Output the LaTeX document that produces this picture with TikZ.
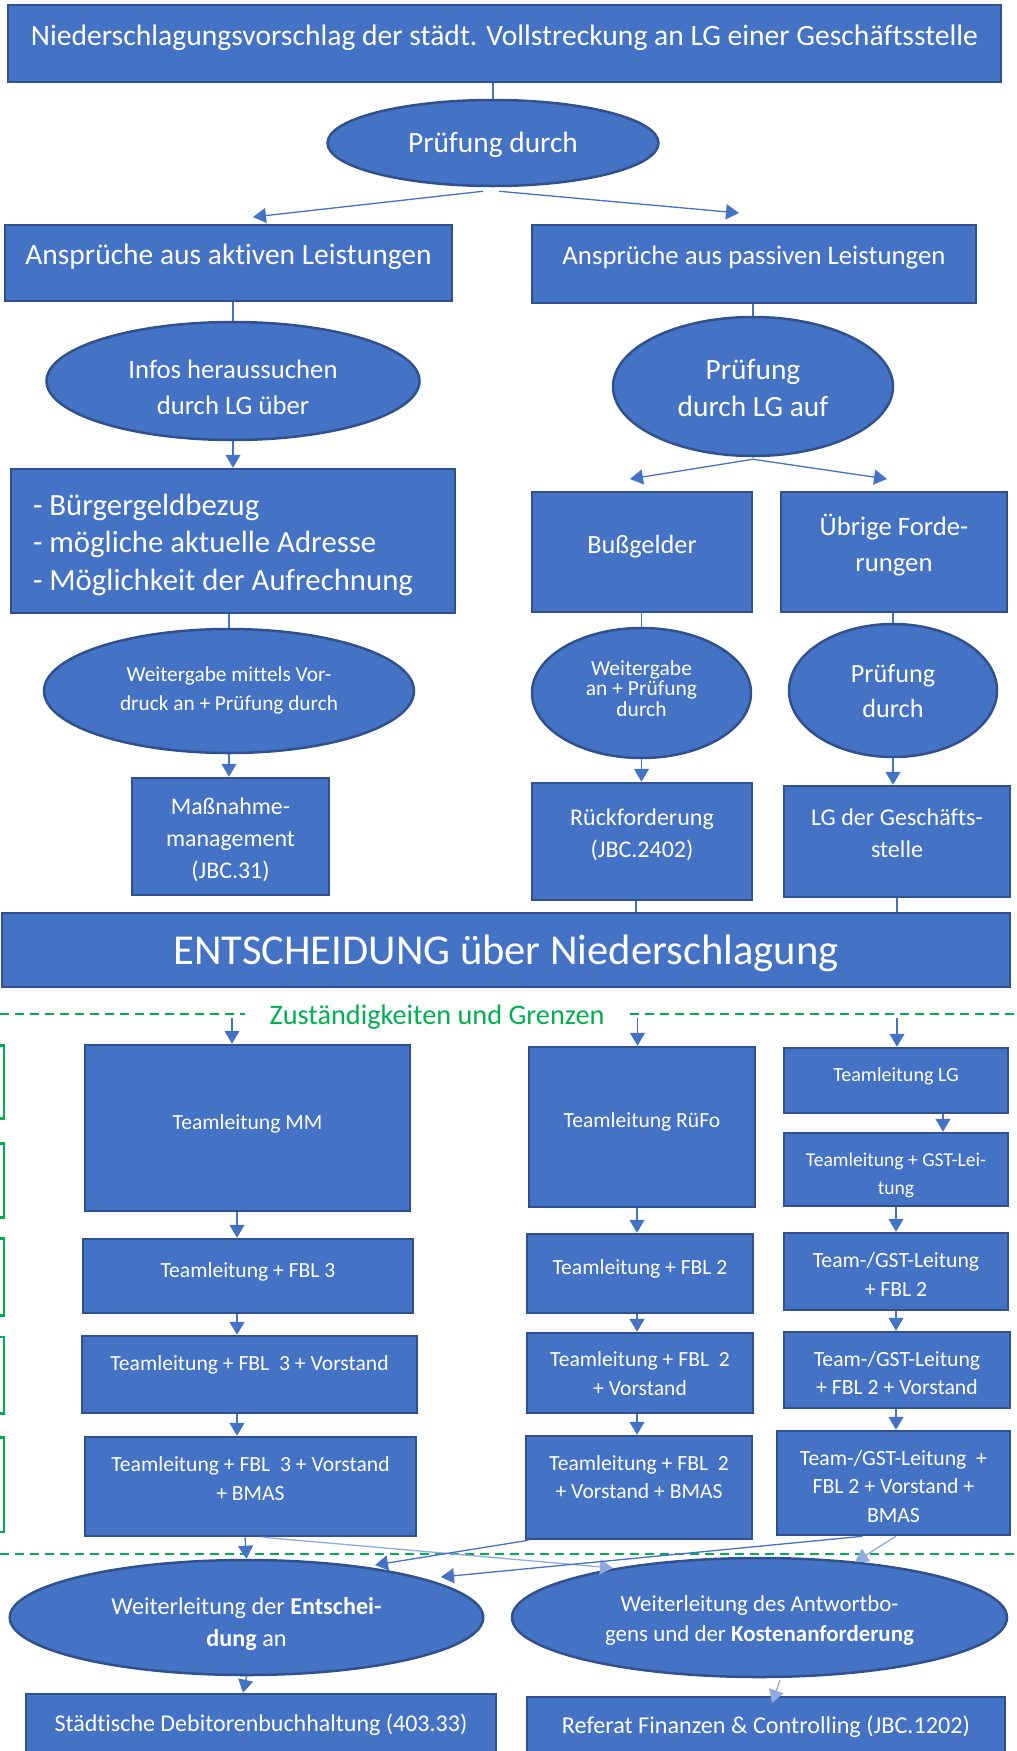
\documentclass[tikz,border=0pt]{standalone}
\usepackage{fontspec}
\setmainfont{Carlito}[Ligatures=NoCommon]
\usetikzlibrary{shapes.geometric,arrows.meta,calc}
\definecolor{boxblue}{HTML}{4472C4}
\definecolor{boxedge}{HTML}{2F528F}
\definecolor{lightblue}{HTML}{8FAADC}
\definecolor{grn}{HTML}{00B050}
\newcommand{\tb}[2]{\raisebox{\dimexpr#1-2.5pt\relax}[\height][\depth]{\begin{tabular}{@{}c@{}}#2\end{tabular}}}
\newcommand{\tbl}[2]{\raisebox{\dimexpr#1-2.5pt\relax}[\height][\depth]{\begin{tabular}{@{}l@{}}#2\end{tabular}}}
\newcommand{\fs}[2]{\fontsize{#1}{#2}\selectfont}
\begin{document}
\begin{tikzpicture}[x=1pt,y=-1pt,
  bluebox/.style={rectangle, draw=boxedge, fill=boxblue, line width=2.5pt, text=white, inner sep=0pt},
  blueoval/.style={ellipse, draw=boxedge, fill=boxblue, line width=2.5pt, text=white, inner sep=0pt},
  conn/.style={draw=boxblue, line width=1.3pt},
  arr/.style={conn, -{Triangle[length=13pt,width=15pt]}},
  larr/.style={draw=lightblue, line width=1.3pt, -{Triangle[length=13pt,width=15pt]}},
  gdash/.style={draw=grn, line width=2pt, dash pattern=on 9pt off 6pt},
  gbox/.style={draw=grn, line width=2.5pt},
  team/.style={bluebox, font=\fs{21.6}{29}},
]
\useasboundingbox (0,0) rectangle (1017,1751);
\clip (0,0) rectangle (1017,1751);

% ---------- upper part ----------
\node[bluebox, minimum width=993pt, minimum height=77pt, font=\fs{29.6}{36}] (top) at (504.5,43.5)
  {\tb{7.5pt}{Niederschlagungsvorschlag der städt. Vollstreckung an LG einer Geschäftsstelle}};
\node[blueoval, minimum width=331pt, minimum height=86pt, font=\fs{29.4}{36}] (pd) at (493,143)
  {\tb{0pt}{Prüfung durch}};
\node[bluebox, minimum width=447pt, minimum height=76pt, font=\fs{29.5}{36}] (akt) at (228.5,263)
  {\tb{8pt}{Ansprüche aus aktiven Leistungen}};
\node[bluebox, minimum width=444pt, minimum height=78pt, font=\fs{26.8}{34}] (pas) at (754,264)
  {\tb{9pt}{Ansprüche aus passiven Leistungen}};
\node[blueoval, minimum width=373pt, minimum height=118pt, font=\fs{26.7}{36}] (infos) at (233,381)
  {\tb{-6pt}{Infos heraussuchen\\durch LG über}};
\node[blueoval, minimum width=280pt, minimum height=139pt, font=\fs{29.4}{37}] (plg) at (753,386.5)
  {\tb{-2pt}{Prüfung\\durch LG auf}};
\node[bluebox, minimum width=444pt, minimum height=144pt, font=\fs{30.8}{37.5}] (bg) at (233,541)
  {\makebox[400pt][l]{\tbl{-1.5pt}{- Bürgergeldbezug\\- mögliche aktuelle Adresse\\- Möglichkeit der Aufrechnung}}};
\node[bluebox, minimum width=220pt, minimum height=120pt, font=\fs{26.3}{36}] (bus) at (642,552)
  {\tb{8pt}{Bußgelder}};
\node[bluebox, minimum width=226pt, minimum height=120pt, font=\fs{26.7}{36}] (ueb) at (894,552)
  {\tb{8pt}{Übrige Forde-\\rungen}};
\node[blueoval, minimum width=370pt, minimum height=124pt, font=\fs{21.3}{29}] (wg) at (229,691)
  {\tb{3.5pt}{Weitergabe mittels Vor-\\druck an + Prüfung durch}};
\node[blueoval, minimum width=219pt, minimum height=130pt, font=\fs{21.5}{20}] (wa) at (641.5,693)
  {\tb{4pt}{Weitergabe\\an + Prüfung\\durch}};
\node[blueoval, minimum width=208pt, minimum height=133pt, font=\fs{26.2}{35}] (pd2) at (893,690.5)
  {\tb{0pt}{Prüfung\\durch}};
\node[bluebox, minimum width=197pt, minimum height=117pt, font=\fs{23.9}{32}] (mm) at (230.5,836.5)
  {\tb{-1.5pt}{Maßnahme-\\management\\(JBC.31)}};
\node[bluebox, minimum width=220pt, minimum height=117pt, font=\fs{24}{32}] (rf) at (642,841.5)
  {\tb{8.5pt}{Rückforderung\\(JBC.2402)}};
\node[bluebox, minimum width=226pt, minimum height=111pt, font=\fs{24.1}{32}] (lgg) at (897,841.5)
  {\tb{8.5pt}{LG der Geschäfts-\\stelle}};
\node[bluebox, minimum width=1008pt, minimum height=74pt, font=\fs{42.6}{50}] (ent) at (506,950)
  {\tb{-2pt}{ENTSCHEIDUNG über Niederschlagung}};

% ---------- responsibilities ----------
\node[text=grn, inner xsep=26pt, inner ysep=0pt, font=\fs{28.3}{34}] (zust) at (437,1015)
  {\tb{0pt}{Zuständigkeiten und Grenzen}};
\draw[gdash] (0,1014) -- (245,1014);
\draw[gdash] (630,1014) -- (1017,1014);

\draw[gbox] (-10,1045.5) rectangle (4,1118.5);
\draw[gbox] (-10,1143.5) rectangle (4,1217.5);
\draw[gbox] (-10,1238.5) rectangle (4,1315.5);
\draw[gbox] (-10,1337) rectangle (4,1413.5);
\draw[gbox] (-10,1437.5) rectangle (4,1532);

\node[team, minimum width=325pt, minimum height=166pt] (tA1) at (247.5,1128) {\tb{7pt}{Teamleitung MM}};
\node[team, minimum width=330pt, minimum height=74pt] (tA2) at (248,1276) {\tb{7pt}{Teamleitung + FBL 3}};
\node[team, minimum width=335pt, minimum height=77pt] (tA3) at (249.5,1374.5) {\tb{12.5pt}{Teamleitung + FBL\ \ 3 + Vorstand}};
\node[team, minimum width=331pt, minimum height=99pt] (tA4) at (250.5,1486.5) {\tb{9pt}{Teamleitung + FBL\ \ 3 + Vorstand\\+ BMAS}};

\node[team, minimum width=226pt, minimum height=160pt] (tB1) at (642,1127) {\tb{8pt}{Teamleitung RüFo}};
\node[team, minimum width=226pt, minimum height=79pt] (tB2) at (640,1273.5) {\tb{7.5pt}{Teamleitung + FBL 2}};
\node[team, minimum width=226pt, minimum height=80pt] (tB3) at (640,1373) {\tb{0.5pt}{Teamleitung + FBL\ \ 2\\+ Vorstand}};
\node[team, minimum width=226pt, minimum height=103pt, font=\fs{21.6}{28}] (tB4) at (639,1487.5) {\tb{11.5pt}{Teamleitung + FBL\ \ 2\\+ Vorstand + BMAS}};

\node[team, minimum width=224pt, minimum height=65pt, font=\fs{20.1}{28}] (tC1) at (896,1080.5) {\tb{7.5pt}{Teamleitung LG}};
\node[team, minimum width=224pt, minimum height=73pt, font=\fs{19.6}{28}] (tC2) at (896,1169.5) {\tb{-2.5pt}{Teamleitung + GST-Lei-\\tung}};
\node[team, minimum width=224pt, minimum height=77pt, font=\fs{21.7}{29}] (tC3) at (896,1271.5) {\tb{-2pt}{Team-/GST-Leitung\\+ FBL 2}};
\node[team, minimum width=226pt, minimum height=76pt, font=\fs{21.7}{28}] (tC4) at (897,1370) {\tb{-2pt}{Team-/GST-Leitung\\+ FBL 2 + Vorstand}};
\node[team, minimum width=233pt, minimum height=104pt, font=\fs{21.7}{28.5}] (tC5) at (893.5,1483) {\tb{-2.5pt}{Team-/GST-Leitung\ \ +\\FBL 2 + Vorstand +\\BMAS}};

% ---------- bottom ----------
\draw[gdash] (0,1554) -- (1017,1554);
\node[blueoval, minimum width=473.5pt, minimum height=115pt, font=\fs{24.2}{32}] (weL) at (246.5,1617.5)
  {\tb{-4.5pt}{Weiterleitung der \textbf{Entschei-}\\\textbf{dung} an}};
\node[blueoval, minimum width=495pt, minimum height=119pt, font=\fs{22.9}{30}] (weR) at (759.5,1617.5)
  {\tb{0pt}{Weiterleitung des Antwortbo-\\gens und der \textbf{Kostenanforderung}}};
\node[bluebox, minimum width=470pt, minimum height=72pt, font=\fs{24}{32}] (deb) at (261,1730)
  {\tb{7pt}{Städtische Debitorenbuchhaltung (403.33)}};
\node[bluebox, minimum width=478pt, minimum height=69pt, font=\fs{24.2}{32}] (ref) at (766,1731.5)
  {\tb{6.5pt}{Referat Finanzen \& Controlling (JBC.1202)}};

% ---------- connectors upper ----------
\coordinate (pa) at (253,217);
\coordinate (pb) at (739,213);
\coordinate (pc) at (630,479);
\coordinate (pe) at (887,479);
\draw[conn] (pd.north |- top.south) -- (pd.north);
\draw[arr] ([xshift=-10pt,yshift=-4pt]pd.south) -- (pa);
\draw[arr] ([xshift=6pt,yshift=-4pt]pd.south) -- (pb);
\draw[conn] (infos.north |- akt.south) -- (infos.north);
\draw[conn] (plg.north |- pas.south) -- (plg.north);
\draw[arr] (infos.south) -- (infos.south |- bg.north);
\draw[arr] ([yshift=-2pt]plg.south) -- (pc);
\draw[arr] ([yshift=-2pt]plg.south) -- (pe);
\draw[conn] (wg.north |- bg.south) -- (wg.north);
\draw[conn] (wa.north |- bus.south) -- (wa.north);
\draw[conn] (pd2.north |- ueb.south) -- (pd2.north);
\draw[arr] (wg.south) -- (wg.south |- mm.north);
\draw[arr] (wa.south) -- (wa.south |- rf.north);
\draw[arr] (pd2.south) -- (pd2.south |- lgg.north);
\coordinate (rfb) at ([xshift=-6pt]rf.south);
\draw[conn] (rfb) -- (rfb |- ent.north);
\draw[conn] (lgg.south) -- (lgg.south |- ent.north);

% ---------- connectors responsibilities ----------
\coordinate (dA) at (232,1018);
\coordinate (dB) at (637.5,1018);
\coordinate (dC) at (897,1018);
\draw[arr] (dA) -- (dA |- tA1.north);
\draw[arr] (dB) -- (dB |- tB1.north);
\draw[arr] (dC) -- (dC |- tC1.north);
\coordinate (cA) at (237,0);
\coordinate (cB) at (637,0);
\coordinate (cC) at (896,0);
\coordinate (cC2) at (943,0);
\draw[arr] (tA1.south -| cA) -- (tA2.north -| cA);
\draw[arr] (tA2.south -| cA) -- (tA3.north -| cA);
\draw[arr] (tA3.south -| cA) -- (tA4.north -| cA);
\draw[arr] (tB1.south -| cB) -- (tB2.north -| cB);
\draw[arr] (tB2.south -| cB) -- (tB3.north -| cB);
\draw[arr] (tB3.south -| cB) -- (tB4.north -| cB);
\draw[arr] (tC1.south -| cC2) -- (tC2.north -| cC2);
\draw[arr] (tC2.south -| cC) -- (tC3.north -| cC);
\draw[arr] (tC3.south -| cC) -- (tC4.north -| cC);
\draw[arr] (tC4.south -| cC) -- (tC5.north -| cC);

% ---------- connectors bottom ----------
\coordinate (e2) at (613,1568);
\coordinate (e3) at (375,1565);
\coordinate (e4) at (441,1577);
\coordinate (e5) at (855,1562);
\coordinate (e7) at (772,1703);
\draw[arr] ([xshift=-5.5pt]tA4.south) -- (weL.north);
\draw[larr] ([xshift=12.5pt]tA4.south) -- (e2);
\draw[arr] ([xshift=-110.5pt]tB4.south) -- (e3);
\draw[arr] ([xshift=-31pt]tC5.south) -- (e4);
\draw[larr] ([xshift=2.5pt]tC5.south) -- (e5);
\draw[arr] (weL.south) -- ([xshift=-18pt]deb.north);
\draw[larr] ([xshift=20.5pt,yshift=-2pt]weR.south) -- (e7);
\end{tikzpicture}
\end{document}
